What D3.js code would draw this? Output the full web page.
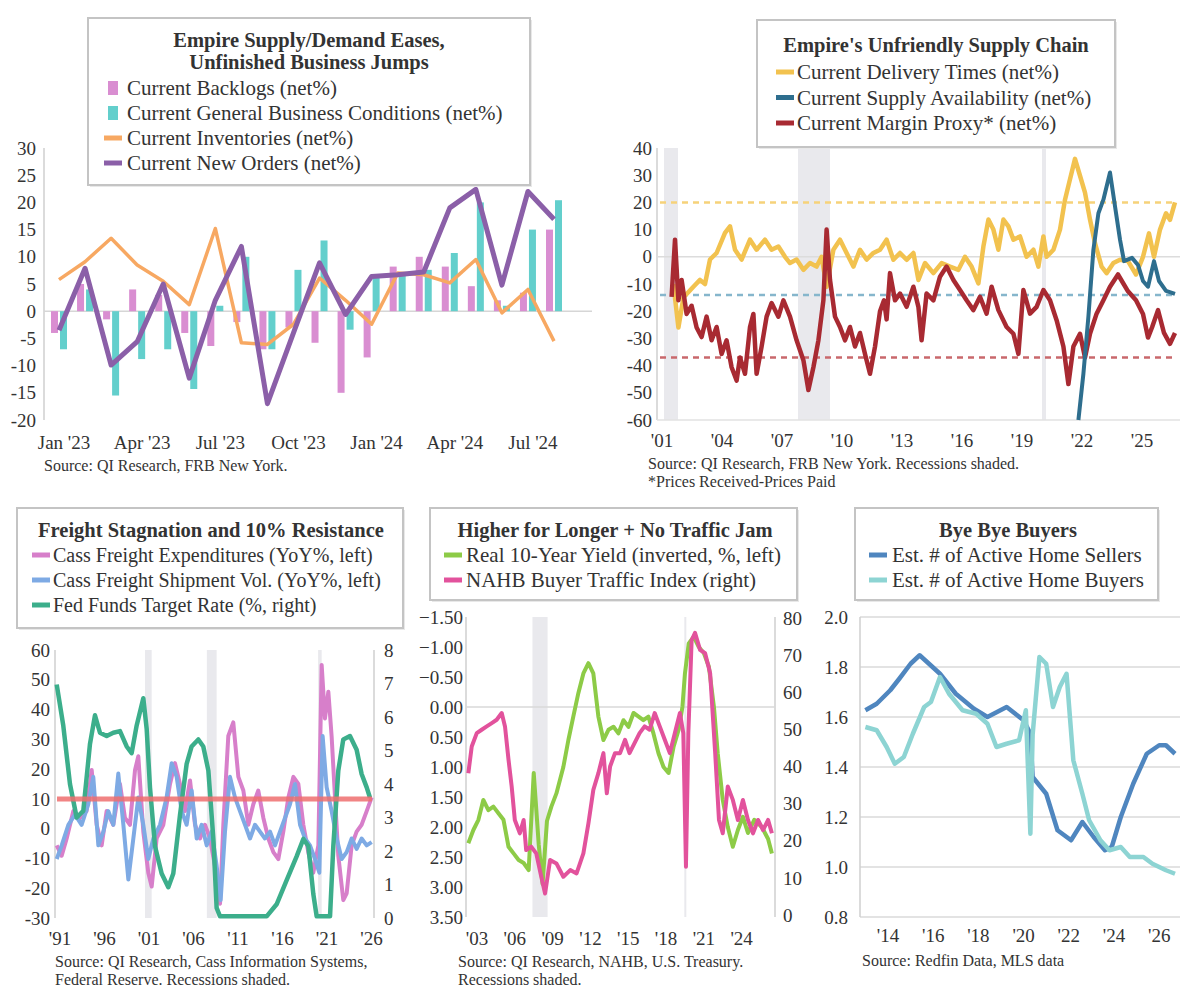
<!DOCTYPE html>
<html>
<head>
<meta charset="utf-8">
<script src="https://cdn.jsdelivr.net/npm/d3@7"></script>
<style>
  body { margin: 0; background: #fff; }
  text { font-family: "Liberation Serif", "Times New Roman", serif; fill: #333; }
</style>
</head>
<body>
<div id="chart"></div>
<script>
// ---------- Panel 1: Empire monthly (net%) ----------
const empireMonths = ["Jan '23","Feb '23","Mar '23","Apr '23","May '23","Jun '23","Jul '23","Aug '23","Sep '23","Oct '23",
  "Nov '23","Dec '23","Jan '24","Feb '24","Mar '24","Apr '24","May '24","Jun '24","Jul '24","Aug '24"];
const empireTicks = ["Jan '23","Apr '23","Jul '23","Oct '23","Jan '24","Apr '24","Jul '24"];
const backlogs    = [-4, 5, -1.5, 4, 3, -4, -6.4, -2, -7, -3, -5.8, -15, -8.5, 8.2, 10, 8.2, 4.6, 2, 3.4, 15];
const generalBiz  = [-7, 4, -15.5, -8.8, -7, -14.3, 1, 10, -7, 7.6, 13, -3.4, 6.4, 7, 7.6, 10.7, 20, 1, 15, 20.4];
const inventories = [5.8, 9.1, 13.4, 8.5, 5.5, 1.2, 15.2, -5.8, -6.1, -2.4, 6.1, 2, -2.4, 7, 6.7, 5.2, 9.5, -0.3, 4, -5.5];
const newOrders   = [-3.5, 7.9, -9.9, -5.6, 5, -12.3, 2, 11.9, -17, -4, 8.9, -0.6, 6.4, 6.7, 7.2, 19, 22.4, 4.8, 22, 16.9];

// ---------- Panel 2: Empire supply chain [year, net%] ----------
const deliveryTimes = [[2001.67,-10],[2001.92,-26],[2002.17,-15],[2002.67,-11],[2003.0,-8.5],[2003.25,-10],[2003.5,-1],
  [2003.83,1.4],[2004.25,8.8],[2004.5,11.2],[2004.75,2.6],[2005.08,-1],[2005.5,6.3],[2005.83,2.6],[2006.25,6.3],
  [2006.58,2.6],[2006.92,3.8],[2007.25,0],[2007.5,-2.3],[2007.83,-1],[2008.17,-4.8],[2008.5,-2.3],[2008.83,-3.6],
  [2009.08,0],[2009.33,-11],[2009.67,2.6],[2010.0,6.3],[2010.33,1.4],[2010.67,-3.6],[2011.0,2.6],[2011.33,-1],
  [2011.67,1.4],[2012.0,2.6],[2012.33,6.3],[2012.67,-1.1],[2013.0,1.4],[2013.33,-1.1],[2013.67,1.4],[2013.92,-8.5],
  [2014.25,-2.3],[2014.67,-6],[2015.08,-2.3],[2015.5,-3.6],[2015.92,-4.8],[2016.25,0],[2016.58,-3.6],[2016.92,-9.8],
  [2017.17,3.8],[2017.42,13.7],[2017.67,10],[2017.92,2.6],[2018.17,13.7],[2018.42,11.2],[2018.67,6.3],[2019.0,7.5],
  [2019.33,0],[2019.67,2.6],[2019.92,-3.6],[2020.17,7.5],[2020.33,0],[2020.67,2.6],[2021.0,10],[2021.25,21],
  [2021.5,28.5],[2021.75,36],[2022.0,29.8],[2022.25,23.6],[2022.5,13.7],[2022.75,5],[2023.08,-3.6],[2023.33,-6],
  [2023.67,-2.3],[2024.0,-1.1],[2024.4,-1.6],[2024.8,-6.5],[2025.15,0],[2025.45,8.6],[2025.7,0],[2026.0,10],
  [2026.3,16],[2026.5,13.6],[2026.75,20]];
const supplyAvail = [[2021.92,-60],[2022.17,-43],[2022.42,-22],[2022.67,2.6],[2022.92,16],[2023.17,21],[2023.5,31],
  [2023.75,18.6],[2024.0,6.3],[2024.2,-1.6],[2024.6,-0.4],[2024.9,-3],[2025.15,-8.9],[2025.4,-11],[2025.7,-1.6],
  [2025.95,-8.9],[2026.3,-12.5],[2026.75,-13.6]];
const marginProxy = [[2001.58,-14.7],[2001.75,6.3],[2001.92,-16],[2002.08,-8.5],[2002.33,-21],[2002.58,-18],[2002.83,-26],
  [2003.08,-29.5],[2003.33,-22],[2003.58,-30.7],[2003.83,-25.8],[2004.08,-35.7],[2004.33,-30.7],[2004.58,-40.6],
  [2004.83,-45.5],[2005.0,-37],[2005.25,-43],[2005.5,-25.8],[2005.67,-21],[2005.83,-43],[2006.08,-33],[2006.33,-22],
  [2006.58,-17],[2006.92,-22],[2007.17,-16],[2007.5,-22],[2007.83,-30.7],[2008.17,-38],[2008.42,-49],[2008.67,-40.6],
  [2008.92,-30.7],[2009.17,-16],[2009.33,10],[2009.5,-8.5],[2009.75,-22],[2010.0,-25.8],[2010.25,-30.7],[2010.5,-25.8],
  [2010.75,-33],[2011.0,-28],[2011.25,-35.7],[2011.5,-43],[2011.75,-33],[2012.0,-20],[2012.2,-16],[2012.33,-23],
  [2012.5,-6],[2012.75,-16],[2013.0,-13.5],[2013.33,-18.4],[2013.67,-11],[2013.92,-18.4],[2014.08,-30.7],[2014.33,-13.5],
  [2014.67,-16],[2015.0,-7.3],[2015.33,-3.6],[2015.67,-8.5],[2016.0,-12.2],[2016.33,-16],[2016.67,-19.6],[2017.0,-14.7],
  [2017.33,-20.9],[2017.58,-11],[2017.92,-19.6],[2018.33,-25.8],[2018.67,-28.3],[2018.92,-35.7],[2019.17,-12.2],
  [2019.5,-20.9],[2019.83,-18.4],[2020.17,-12.2],[2020.5,-16],[2020.83,-23.3],[2021.17,-33],[2021.42,-46.8],
  [2021.67,-33],[2022.0,-28.3],[2022.25,-37],[2022.5,-28.3],[2022.83,-20.9],[2023.17,-16],[2023.5,-11],[2023.9,-6.5],
  [2024.4,-12.7],[2024.8,-16],[2025.15,-21],[2025.4,-29.7],[2025.6,-26],[2025.9,-19.6],[2026.2,-28],[2026.5,-32],
  [2026.75,-28]];
const supplyAverages = [20, -14, -37];   // delivery, availability, margin
const supplyRecessions = [[2001.2, 2001.9], [2007.9, 2009.5], [2020.1, 2020.3]];
const supplyYears = [2001, 2004, 2007, 2010, 2013, 2016, 2019, 2022, 2025];

// ---------- Panel 3: Cass freight (YoY%) and fed funds (%) ----------
const cassExpend = [[1990.63,-5.6],[1991.19,-9.1],[1991.75,-3.3],[1992.5,5.9],[1993.25,3.6],[1993.99,5.9],[1994.56,19.7],
  [1995.12,1.3],[1995.68,-5.6],[1996.24,5.9],[1996.99,1.3],[1997.74,15],[1998.3,3.6],[1998.86,1.3],[1999.43,19.7],
  [1999.8,24.3],[2000.36,-1],[2000.92,-14.8],[2001.3,-19.4],[2001.86,-3.3],[2002.61,1.3],[2003.36,15],[2003.92,22],
  [2004.48,15],[2005.04,5.9],[2005.61,16.2],[2006.17,1.3],[2006.73,-3.3],[2007.29,1.3],[2007.85,-3.3],[2008.41,-12.5],
  [2008.98,-25.2],[2009.35,1.3],[2009.91,31.1],[2010.47,35.7],[2011.04,17.4],[2011.6,12.8],[2012.16,1.3],[2012.72,8.2],
  [2013.28,12.8],[2013.85,3.6],[2014.41,-3.3],[2014.97,-7.9],[2015.53,-10.2],[2016.09,-1],[2016.66,10.5],[2017.22,17.4],
  [2017.78,15],[2018.34,1.3],[2018.9,-7.9],[2019.46,-14.8],[2020.03,-5.6],[2020.4,55],[2020.77,37],[2021.15,46],
  [2021.52,31],[2021.9,10.5],[2022.27,-9.1],[2022.83,-24],[2023.21,-21.7],[2023.77,-5.6],[2024.33,-1],[2024.89,1.3],
  [2025.46,5.9],[2026.02,10.5]];
const cassShip = [[1990.63,-10.2],[1991.19,-5.6],[1991.94,1.3],[1992.68,4.7],[1993.43,1.3],[1994.18,8.2],[1994.74,17.4],
  [1995.31,-5.6],[1995.87,-1],[1996.43,5.9],[1996.99,1.3],[1997.55,18.5],[1998.12,1.3],[1998.68,-17.1],[1999.24,-3.3],
  [1999.8,10.5],[2000.36,1.3],[2000.92,-10.2],[2001.49,-3.3],[2002.24,1.3],[2002.98,10.5],[2003.55,22],[2004.11,17.4],
  [2004.67,5.9],[2005.23,1.3],[2005.79,12.8],[2006.36,-3.3],[2006.92,1.3],[2007.48,-5.6],[2008.04,-1],[2008.6,-12.5],
  [2009.05,-24],[2009.54,-1],[2010.1,17.4],[2010.66,10.5],[2011.22,5.9],[2011.79,1.3],[2012.35,-3.3],[2012.91,1.3],
  [2013.47,-1],[2014.03,-3.3],[2014.6,-1],[2015.16,-5.6],[2015.72,-1],[2016.28,3.6],[2016.84,8.2],[2017.4,15],
  [2017.97,1.3],[2018.53,-3.3],[2019.09,-5.6],[2019.65,-10.2],[2020.14,-14.8],[2020.51,31.1],[2020.96,13.9],
  [2021.52,5.9],[2022.09,-3.3],[2022.65,-10.2],[2023.21,-7.9],[2023.77,-3.3],[2024.33,-6.8],[2024.89,-3.3],
  [2025.46,-5.6],[2026.02,-4.5]];
const fedFunds = [[1990.63,6.97],[1991.37,5.74],[1992.12,4.0],[1992.87,3.0],[1993.62,3.2],[1994.37,5.2],[1994.93,6.05],
  [1995.49,5.53],[1996.24,5.43],[1996.99,5.53],[1997.74,5.58],[1998.49,5.12],[1999.05,4.92],[1999.61,5.74],[2000.36,6.56],
  [2000.74,5.64],[2001.11,3.9],[2001.67,2.15],[2002.42,1.33],[2003.17,0.92],[2003.73,1.33],[2004.48,3.07],[2005.23,4.6],
  [2005.79,5.12],[2006.54,5.33],[2007.1,5.12],[2007.67,4.4],[2008.23,2.36],[2008.6,0.3],[2008.98,0.05],[2014.22,0.05],
  [2015.34,0.41],[2016.47,1.13],[2017.59,1.84],[2018.34,2.36],[2018.9,2.15],[2019.46,0.72],[2019.84,0.05],[2021.34,0.05],
  [2021.71,2.15],[2022.27,4.4],[2022.83,5.33],[2023.58,5.43],[2024.33,5.02],[2024.89,4.3],[2025.46,3.9],[2025.83,3.59]];
const freightResistance = 10;
const freightRecessions = [[2000.55, 2001.3], [2007.5, 2008.6], [2020.0, 2020.4]];
const freightYears = [1991, 1996, 2001, 2006, 2011, 2016, 2021, 2026];

// ---------- Panel 4: real 10y yield (inverted %) and NAHB buyer traffic ----------
const realYield = [[2002.31,2.27],[2002.71,2.05],[2003.11,1.88],[2003.5,1.55],[2003.9,1.72],[2004.3,1.66],[2004.7,1.77],
  [2005.1,1.88],[2005.5,2.33],[2005.9,2.44],[2006.3,2.55],[2006.7,2.6],[2007.1,2.72],[2007.5,1.1],[2007.9,2.3],
  [2008.2,2.95],[2008.55,1.9],[2008.9,1.66],[2009.3,1.44],[2009.85,1.0],[2010.25,0.55],[2010.64,0.16],[2011.04,-0.23],
  [2011.44,-0.56],[2011.84,-0.73],[2012.23,-0.56],[2012.63,0.16],[2013.03,0.55],[2013.43,0.38],[2013.83,0.33],
  [2014.22,0.44],[2014.62,0.22],[2015.02,0.33],[2015.42,0.1],[2015.82,0.16],[2016.2,0.22],[2016.6,0.16],[2017.0,0.44],
  [2017.4,0.77],[2017.8,1.0],[2018.2,1.1],[2018.6,0.66],[2019.0,0.38],[2019.3,0.0],[2019.5,-0.56],[2019.8,-1.06],
  [2020.2,-1.17],[2020.6,-1.0],[2021.0,-0.9],[2021.4,-0.67],[2021.8,0.0],[2022.1,0.77],[2022.5,1.55],[2022.9,2.0],
  [2023.3,2.33],[2023.7,2.05],[2024.1,1.83],[2024.5,2.1],[2025.0,1.88],[2025.6,2.0],[2026.1,2.2],[2026.4,2.44]];
const nahbTraffic = [[2002.31,38.2],[2002.58,45.4],[2002.98,49],[2003.37,49.9],[2003.77,50.8],[2004.17,51.7],[2004.56,52.6],
  [2004.96,54.4],[2005.22,50.8],[2005.5,41.8],[2005.75,34.6],[2006.0,25.6],[2006.4,22],[2006.7,25.6],[2006.9,17.5],
  [2007.3,18.4],[2007.7,16.6],[2008.1,10.3],[2008.4,5.8],[2008.8,14.8],[2009.3,13.9],[2009.85,10.3],[2010.4,12.1],
  [2010.9,11.2],[2011.44,16.6],[2011.84,24.7],[2012.23,33.7],[2012.63,38.2],[2013.03,43.6],[2013.3,32.8],[2013.56,40],
  [2013.95,43.6],[2014.35,43.6],[2014.75,47.2],[2015.1,43.6],[2015.5,46.3],[2015.9,49],[2016.3,50.8],[2016.7,49.9],
  [2017.1,54.4],[2017.5,50.8],[2017.9,47.2],[2018.3,43.6],[2018.7,49],[2019.1,54.4],[2019.37,49],[2019.58,13],
  [2019.77,49],[2020.03,74],[2020.3,76],[2020.7,71.4],[2021.1,70.5],[2021.5,65.1],[2021.9,43.6],[2022.2,25.6],
  [2022.5,22],[2022.9,34.6],[2023.3,31],[2023.7,25.6],[2024.1,31],[2024.5,25.6],[2024.9,22],[2025.3,25.6],
  [2025.7,22.9],[2026.1,25.6],[2026.4,22]];
const trafficRecessions = [[2007.4, 2008.6], [2019.45, 2019.6]];
const trafficYears = [2003, 2006, 2009, 2012, 2015, 2018, 2021, 2024];

// ---------- Panel 5: active home sellers / buyers (millions) ----------
const homeSellers = [[2013.0,1.627],[2013.5,1.653],[2014.1,1.707],[2014.5,1.753],[2015.0,1.813],[2015.4,1.847],[2016.3,1.773],
  [2017.0,1.693],[2017.8,1.633],[2018.4,1.6],[2019.25,1.64],[2020.0,1.587],[2020.3,1.533],[2020.4,1.36],[2021.0,1.293],
  [2021.5,1.147],[2022.1,1.107],[2022.6,1.18],[2023.1,1.12],[2023.6,1.067],[2023.9,1.08],[2024.3,1.2],[2024.85,1.333],
  [2025.45,1.453],[2026.0,1.487],[2026.3,1.487],[2026.7,1.453]];
const homeBuyers = [[2013.0,1.56],[2013.5,1.547],[2013.94,1.48],[2014.3,1.413],[2014.7,1.44],[2015.1,1.533],[2015.6,1.64],
  [2015.9,1.66],[2016.3,1.76],[2016.7,1.693],[2017.3,1.627],[2017.9,1.613],[2018.4,1.573],[2018.8,1.48],[2019.25,1.493],
  [2019.8,1.507],[2020.1,1.627],[2020.3,1.133],[2020.4,1.53],[2020.7,1.84],[2021.0,1.813],[2021.3,1.64],[2021.6,1.72],
  [2021.9,1.773],[2022.2,1.427],[2022.6,1.293],[2022.9,1.187],[2023.4,1.107],[2023.8,1.067],[2024.3,1.08],[2024.7,1.04],
  [2025.3,1.04],[2025.7,1.013],[2026.3,0.987],[2026.7,0.973]];
const buyerYears = [2014, 2016, 2018, 2020, 2022, 2024, 2026];

// ---------- shared helpers ----------
const svg = d3.select('#chart').append('svg')
  .attr('width', 1192)
  .attr('height', 1004);

const yearLabel = d => "'" + String(d % 100).padStart(2, '0');
const grey = '#cfcfcf';
const tickSize = '19px';

function vAxisLine(g, x, y0, y1) {
  g.append('line').attr('x1', x).attr('x2', x).attr('y1', y0).attr('y2', y1)
    .attr('stroke', grey).attr('stroke-width', 1.5);
}

function yLabels(g, scale, ticks, x, anchor, fmt) {
  g.selectAll(null).data(ticks).enter().append('text')
    .attr('x', x)
    .attr('y', d => scale(d))
    .attr('dy', '0.35em')
    .attr('text-anchor', anchor)
    .style('font-size', tickSize)
    .text(fmt);
}

// y is the vertical centre of the labels
function xLabels(g, scale, ticks, y, fmt, shift) {
  g.selectAll(null).data(ticks).enter().append('text')
    .attr('x', d => scale(d) + (shift || 0))
    .attr('y', y)
    .attr('dy', '0.35em')
    .attr('text-anchor', 'middle')
    .style('font-size', tickSize)
    .text(fmt);
}

function drawLine(g, data, x, y, color, width) {
  g.append('path').datum(data)
    .attr('fill', 'none')
    .attr('stroke', color)
    .attr('stroke-width', width)
    .attr('stroke-linejoin', 'round')
    .attr('d', d3.line().x(d => x(d[0])).y(d => y(d[1])));
}

function recessions(g, data, x, yTop, yBot) {
  g.selectAll(null).data(data).enter().append('rect')
    .attr('x', d => x(d[0]))
    .attr('width', d => Math.max(2, x(d[1]) - x(d[0])))
    .attr('y', yTop)
    .attr('height', yBot - yTop)
    .attr('fill', '#e9e9ed');
}

function legend(g, box, titleLines, items, opt) {
  g.append('rect')
    .attr('x', box[0] + 2).attr('y', box[1] + 2)
    .attr('width', box[2] - box[0]).attr('height', box[3] - box[1])
    .attr('fill', '#e8e8e8');
  g.append('rect')
    .attr('x', box[0]).attr('y', box[1])
    .attr('width', box[2] - box[0]).attr('height', box[3] - box[1])
    .attr('fill', '#fff').attr('stroke', '#c4c4c4').attr('stroke-width', 2);
  titleLines.forEach((t, i) => {
    g.append('text')
      .attr('x', opt.titleX)
      .attr('y', opt.titleY + i * 22)
      .attr('dy', '0.35em')
      .attr('text-anchor', 'middle')
      .style('font-size', '20.5px')
      .style('font-weight', 'bold')
      .text(t);
  });
  items.forEach((it, i) => {
    const cy = opt.itemY + i * opt.step;
    if (it.type === 'square') {
      g.append('rect').attr('x', opt.markX + 4).attr('y', cy - 7)
        .attr('width', 10).attr('height', 14).attr('fill', it.color);
    } else {
      g.append('line').attr('x1', opt.markX).attr('x2', opt.markX + 18)
        .attr('y1', cy).attr('y2', cy)
        .attr('stroke', it.color).attr('stroke-width', 5);
    }
    g.append('text')
      .attr('x', opt.textX).attr('y', cy)
      .attr('dy', '0.35em')
      .style('font-size', opt.size || '21px')
      .text(it.label);
  });
}

function source(g, lines, x, y) {
  lines.forEach((t, i) => {
    g.append('text').attr('x', x).attr('y', y + i * 18)
      .attr('dy', '0.35em')
      .style('font-size', '16px').text(t);
  });
}

// ---------- Panel 1 ----------
{
  const g = svg.append('g');
  const x = d3.scalePoint().domain(empireMonths).range([59, 554]);
  const y = d3.scaleLinear().domain([-20, 30]).range([420, 148]);

  vAxisLine(g, 44, 148, 420);
  yLabels(g, y, d3.range(-20, 31, 5), 36, 'end', d => d);
  g.append('line').attr('x1', 44).attr('x2', 592).attr('y1', y(0)).attr('y2', y(0))
    .attr('stroke', '#d6d6d6').attr('stroke-width', 1.5);

  const bars = (vals, off, color) => g.selectAll(null).data(vals).enter().append('rect')
    .attr('x', (d, i) => x(empireMonths[i]) + off)
    .attr('width', 7)
    .attr('y', d => y(Math.max(0, d)))
    .attr('height', d => Math.abs(y(d) - y(0)))
    .attr('fill', color);
  bars(backlogs, -8, '#d98ed1');
  bars(generalBiz, 1, '#63cfcc');

  const pts = vals => vals.map((v, i) => [empireMonths[i], v]);
  const line = d3.line().x(d => x(d[0])).y(d => y(d[1]));
  g.append('path').datum(pts(inventories)).attr('d', line).attr('fill', 'none')
    .attr('stroke', '#f7a862').attr('stroke-width', 3.5).attr('stroke-linejoin', 'round');
  g.append('path').datum(pts(newOrders)).attr('d', line).attr('fill', 'none')
    .attr('stroke', '#8b5fa8').attr('stroke-width', 5).attr('stroke-linejoin', 'round');

  xLabels(g, x, empireTicks, 442, d => d, 5);
  source(g, ['Source: QI Research, FRB New York.'], 44, 465);

  legend(g, [88, 18, 530, 185],
    ['Empire Supply/Demand Eases,', 'Unfinished Business Jumps'],
    [{label: 'Current Backlogs (net%)', color: '#d98ed1', type: 'square'},
     {label: 'Current General Business Conditions (net%)', color: '#63cfcc', type: 'square'},
     {label: 'Current Inventories (net%)', color: '#f7a862'},
     {label: 'Current New Orders (net%)', color: '#8b5fa8'}],
    {titleX: 309, titleY: 40, itemY: 88, step: 25, markX: 104, textX: 127});
}

// ---------- Panel 2 ----------
{
  const g = svg.append('g');
  const x = d3.scaleLinear().domain([2001, 2026.75]).range([660, 1175]);
  const y = d3.scaleLinear().domain([-60, 40]).range([420, 148]);

  recessions(g, supplyRecessions, x, 148, 420);
  vAxisLine(g, 657, 148, 420);
  g.append('line').attr('x1', 657).attr('x2', 1180).attr('y1', y(0)).attr('y2', y(0))
    .attr('stroke', '#dcdcdc').attr('stroke-width', 1.5);
  g.append('line').attr('x1', 657).attr('x2', 1180).attr('y1', y(-60)).attr('y2', y(-60))
    .attr('stroke', '#e2e2e2').attr('stroke-width', 1.5);
  yLabels(g, y, d3.range(-60, 41, 10), 652, 'end', d => d);

  const refColors = ['#f6d27a', '#86b6cc', '#c9686c'];
  g.selectAll(null).data(supplyAverages).enter().append('line')
    .attr('x1', 660).attr('x2', 1175)
    .attr('y1', d => y(d)).attr('y2', d => y(d))
    .attr('stroke', (d, i) => refColors[i])
    .attr('stroke-width', 2.5)
    .attr('stroke-dasharray', '6,5');

  drawLine(g, deliveryTimes, x, y, '#f2c24f', 4.5);
  drawLine(g, marginProxy, x, y, '#a82a32', 4.5);
  drawLine(g, supplyAvail, x, y, '#2e6e8e', 4);

  xLabels(g, x, supplyYears, 440, yearLabel, 2);
  source(g, ['Source: QI Research, FRB New York. Recessions shaded.', '*Prices Received-Prices Paid'], 648, 463);

  legend(g, [757, 20, 1115, 147],
    ["Empire's Unfriendly Supply Chain"],
    [{label: 'Current Delivery Times (net%)', color: '#f2c24f'},
     {label: 'Current Supply Availability (net%)', color: '#2e6e8e'},
     {label: 'Current Margin Proxy* (net%)', color: '#a82a32'}],
    {titleX: 936, titleY: 45, itemY: 72, step: 25.5, markX: 776, textX: 797});
}

// ---------- Panel 3 ----------
{
  const g = svg.append('g');
  const x = d3.scaleLinear().domain([1991, 2026]).range([60, 371.5]);
  const yL = d3.scaleLinear().domain([-30, 60]).range([918, 650]);
  const yR = d3.scaleLinear().domain([0, 8]).range([918, 650]);

  recessions(g, freightRecessions, x, 650, 918);
  vAxisLine(g, 55, 650, 918);
  vAxisLine(g, 374, 650, 918);
  yLabels(g, yL, d3.range(-30, 61, 10), 50, 'end', d => d);
  yLabels(g, yR, d3.range(0, 9, 1), 384, 'start', d => d);

  drawLine(g, cassExpend, x, yL, '#d77fca', 4);
  drawLine(g, cassShip, x, yL, '#7eaae4', 4);
  drawLine(g, fedFunds, x, yR, '#3cae8b', 4.5);
  g.append('line').attr('x1', 57).attr('x2', 372)
    .attr('y1', yL(freightResistance)).attr('y2', yL(freightResistance))
    .attr('stroke', '#ef6f6f').attr('stroke-width', 5).attr('opacity', 0.85);

  xLabels(g, x, freightYears, 938, yearLabel);
  source(g, ['Source: QI Research, Cass Information Systems,', 'Federal Reserve. Recessions shaded.'], 55, 961);

  legend(g, [17, 508, 403, 628],
    ['Freight Stagnation and 10% Resistance'],
    [{label: 'Cass Freight Expenditures (YoY%, left)', color: '#d77fca'},
     {label: 'Cass Freight Shipment Vol. (YoY%, left)', color: '#7eaae4'},
     {label: 'Fed Funds Target Rate (%, right)', color: '#3cae8b'}],
    {titleX: 211, titleY: 530, itemY: 555, step: 25, markX: 32, textX: 53, size: '20px'});
}

// ---------- Panel 4 ----------
{
  const g = svg.append('g');
  const x = d3.scaleLinear().domain([2002.3, 2026.4]).range([468.2, 771.9]);
  const yL = d3.scaleLinear().domain([-1.5, 3.5]).range([617, 917]);
  const yR = d3.scaleLinear().domain([0, 80]).range([915, 618]);

  recessions(g, trafficRecessions, x, 617, 917);
  vAxisLine(g, 466, 617, 917);
  vAxisLine(g, 775, 617, 917);
  g.append('line').attr('x1', 466).attr('x2', 775).attr('y1', yL(0)).attr('y2', yL(0))
    .attr('stroke', '#d8d8d8').attr('stroke-width', 1.5);
  yLabels(g, yL, d3.range(-1.5, 3.51, 0.5), 463, 'end', d3.format('.2f'));
  yLabels(g, yR, d3.range(0, 81, 10), 783, 'start', d => d);

  drawLine(g, realYield, x, yL, '#8dcb47', 4);
  drawLine(g, nahbTraffic, x, yR, '#e2529c', 4);

  xLabels(g, x, trafficYears, 938, yearLabel);
  source(g, ['Source: QI Research, NAHB, U.S. Treasury.', 'Recessions shaded.'], 458, 961);

  legend(g, [430, 508, 797, 600],
    ['Higher for Longer + No Traffic Jam'],
    [{label: 'Real 10-Year Yield (inverted, %, left)', color: '#8dcb47'},
     {label: 'NAHB Buyer Traffic Index (right)', color: '#e2529c'}],
    {titleX: 615, titleY: 530, itemY: 555, step: 25, markX: 444, textX: 466});
}

// ---------- Panel 5 ----------
{
  const g = svg.append('g');
  const x = d3.scaleLinear().domain([2014, 2026]).range([888, 1159.2]);
  const y = d3.scaleLinear().domain([0.8, 2.0]).range([917, 617]);

  g.selectAll(null).data(d3.range(0.8, 2.01, 0.2)).enter().append('line')
    .attr('x1', 860).attr('x2', 1180)
    .attr('y1', d => y(d)).attr('y2', d => y(d))
    .attr('stroke', '#e3e3e3').attr('stroke-width', 2);
  vAxisLine(g, 860, 617, 917);
  yLabels(g, y, d3.range(0.8, 2.01, 0.2), 848, 'end', d3.format('.1f'));

  drawLine(g, homeSellers, x, y, '#4f86bf', 4.5);
  drawLine(g, homeBuyers, x, y, '#8dd4d3', 4.5);

  xLabels(g, x, buyerYears, 935, yearLabel);
  source(g, ['Source: Redfin Data, MLS data'], 862, 960);

  legend(g, [855, 508, 1158, 600],
    ['Bye Bye Buyers'],
    [{label: 'Est. # of Active Home Sellers', color: '#4f86bf'},
     {label: 'Est. # of Active Home Buyers', color: '#8dd4d3'}],
    {titleX: 1008, titleY: 530, itemY: 555, step: 25, markX: 869, textX: 892});
}
</script>
</body>
</html>
